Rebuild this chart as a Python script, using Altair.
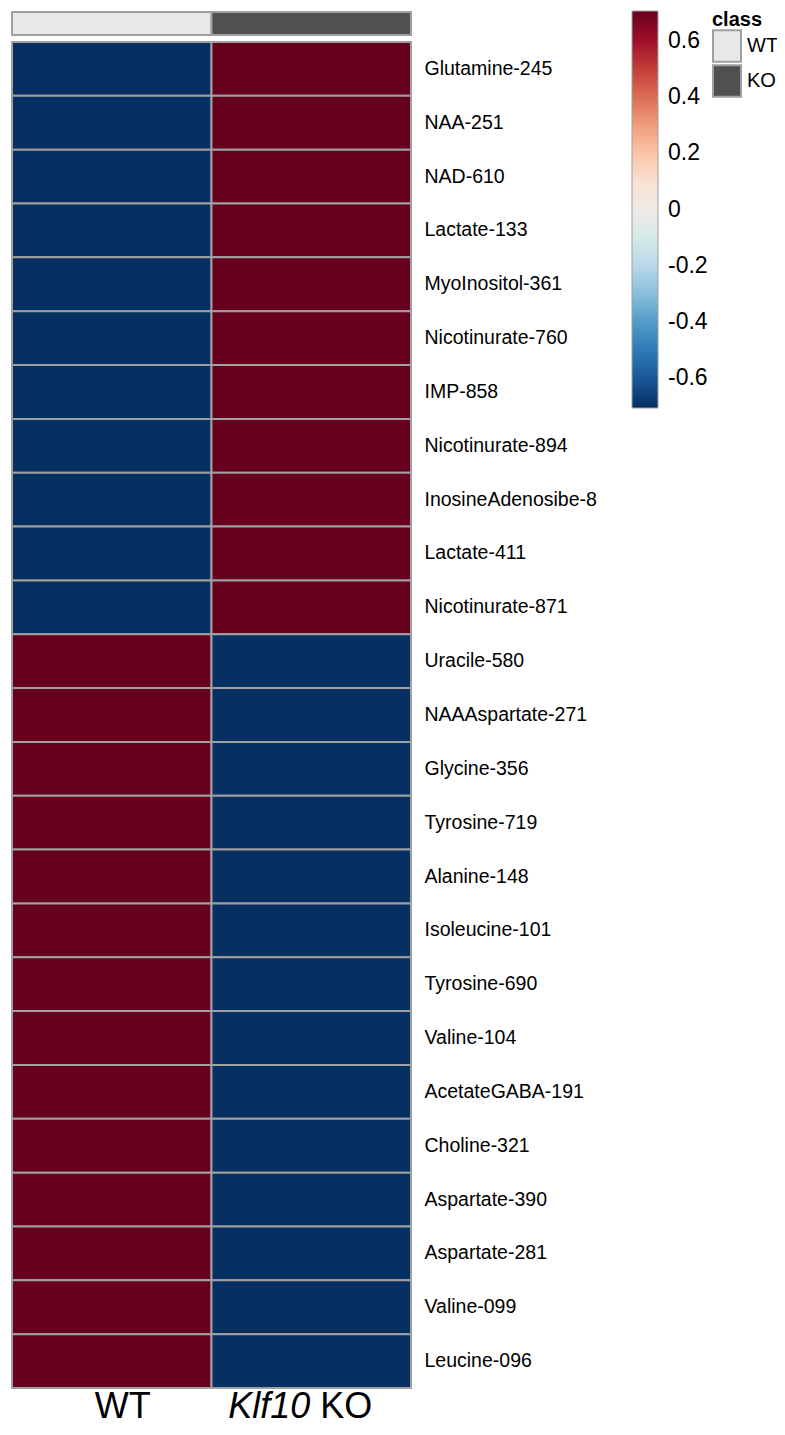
import altair as alt
import pandas as pd

metabolites = [
    "Glutamine-245", "NAA-251", "NAD-610", "Lactate-133", "MyoInositol-361",
    "Nicotinurate-760", "IMP-858", "Nicotinurate-894", "InosineAdenosibe-8",
    "Lactate-411", "Nicotinurate-871", "Uracile-580", "NAAAspartate-271",
    "Glycine-356", "Tyrosine-719", "Alanine-148", "Isoleucine-101",
    "Tyrosine-690", "Valine-104", "AcetateGABA-191", "Choline-321",
    "Aspartate-390", "Aspartate-281", "Valine-099", "Leucine-096",
]
groups = ["WT", "KO"]
wt_values = [-0.707, -0.707, -0.707, -0.707, -0.707, -0.707, -0.707, -0.707,
             -0.707, -0.707, -0.707, 0.707, 0.707, 0.707, 0.707, 0.707, 0.707,
             0.707, 0.707, 0.707, 0.707, 0.707, 0.707, 0.707, 0.707]
ko_values = [0.707, 0.707, 0.707, 0.707, 0.707, 0.707, 0.707, 0.707,
             0.707, 0.707, 0.707, -0.707, -0.707, -0.707, -0.707, -0.707, -0.707,
             -0.707, -0.707, -0.707, -0.707, -0.707, -0.707, -0.707, -0.707]
legend_ticks = [-0.6, -0.4, -0.2, 0, 0.2, 0.4, 0.6]
class_colors = ["#e8e8e8", "#505050"]
rdbu = ["#053061", "#2166ac", "#4393c3", "#92c5de", "#d1e5f0", "#f0ebe8",
        "#fddbc7", "#f4a582", "#d6604d", "#b2182b", "#67001f"]

rows = []
for m, w, k in zip(metabolites, wt_values, ko_values):
    rows.append({"metabolite": m, "group": "WT", "value": w})
    rows.append({"metabolite": m, "group": "KO", "value": k})
df = pd.DataFrame(rows)
class_df = pd.DataFrame({"cls": groups, "group": groups})

FONT = "Liberation Sans"
xscale = alt.Scale(domain=groups, paddingInner=0, paddingOuter=0)
X = alt.X("group:N", sort=groups, axis=None, scale=xscale)

class_bar = alt.Chart(class_df).mark_rect(stroke="#a0a0a0", strokeWidth=2).encode(
    x=X,
    y=alt.value(-30), y2=alt.value(-7),
    color=alt.Color("cls:N",
                    scale=alt.Scale(domain=groups, range=class_colors),
                    legend=alt.Legend(orient="none", legendX=700, legendY=-32,
                                      title="class", titleFontSize=20,
                                      titleFont=FONT, titleFontWeight="bold",
                                      titleColor="black", titlePadding=1,
                                      symbolType="M-1,-1.12H1V1.12H-1Z",
                                      symbolSize=784,
                                      symbolStrokeColor="#a0a0a0",
                                      symbolStrokeWidth=2, symbolOpacity=1,
                                      rowPadding=-14, labelFontSize=20,
                                      labelFont=FONT, labelColor="black",
                                      labelOffset=5)),
)

heat = alt.Chart(df).mark_rect(stroke="#a0a0a0", strokeWidth=2).encode(
    x=X,
    y=alt.Y("metabolite:N", sort=metabolites,
            scale=alt.Scale(paddingInner=0, paddingOuter=0),
            axis=alt.Axis(orient="right", title=None, ticks=False, domain=False,
                          labelFontSize=19.5, labelFont=FONT, labelColor="black",
                          labelPadding=13)),
    color=alt.Color("value:Q",
                    scale=alt.Scale(range=rdbu, domain=[-0.7071, 0.7071]),
                    legend=alt.Legend(orient="none", legendX=620, legendY=-31,
                                      title=None, direction="vertical",
                                      gradientLength=397, gradientThickness=26,
                                      gradientStrokeColor="#a0a0a0",
                                      gradientStrokeWidth=1,
                                      values=legend_ticks, labelOverlap=False,
                                      labelExpr="datum.value == 0 ? '0' : toString(round(datum.value*10)/10)",
                                      labelFontSize=23, labelFont=FONT,
                                      labelColor="black", labelOffset=10)),
)

lab_plain = pd.DataFrame({"group": ["WT"], "t": ["WT"]})
lab_ko_it = pd.DataFrame({"group": ["KO"], "t": ["Klf10"]})
lab_ko = pd.DataFrame({"group": ["KO"], "t": ["KO"]})

t1 = alt.Chart(lab_plain).mark_text(fontSize=36, font=FONT, align="center",
                                    baseline="alphabetic", dx=11, color="black").encode(
    x=X, y=alt.value(1376), text="t:N")
t2 = alt.Chart(lab_ko_it).mark_text(fontSize=36, font=FONT, fontStyle="italic",
                                    align="right", baseline="alphabetic", dx=-1,
                                    color="black").encode(
    x=X, y=alt.value(1376), text="t:N")
t3 = alt.Chart(lab_ko).mark_text(fontSize=36, font=FONT, align="left",
                                 baseline="alphabetic", dx=9, color="black").encode(
    x=X, y=alt.value(1376), text="t:N")

chart = alt.layer(class_bar, heat, t1, t2, t3).resolve_scale(
    color="independent"
).properties(
    width=399, height=1346,
    autosize=alt.AutoSizeParams(type="none"),
    padding={"left": 4, "top": 34, "right": 366, "bottom": 38},
).configure_view(stroke=None)

chart.save("out.html", embed_options={"renderer": "svg", "actions": False})
